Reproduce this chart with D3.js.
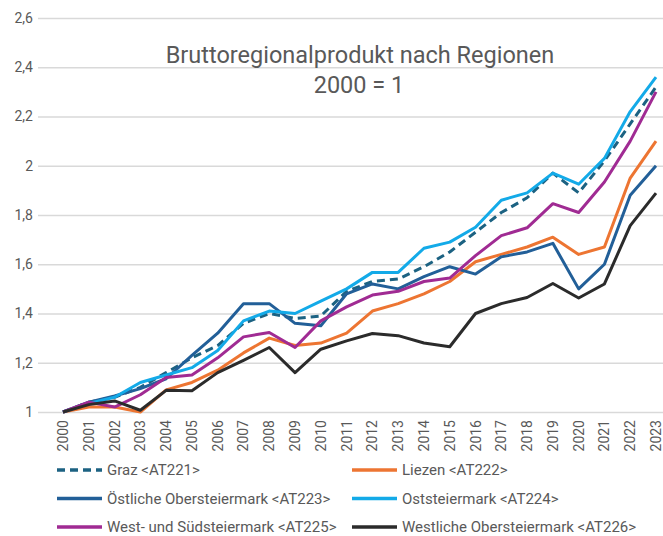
<!DOCTYPE html>
<html>
<head>
<meta charset="utf-8">
<script src="https://cdn.jsdelivr.net/npm/d3@7"></script>
<style>
  body { margin: 0; background: #fff; }
  svg { display: block; font-family: Roboto, "Liberation Sans", sans-serif; }
</style>
</head>
<body>
<div id="chart"></div>
<script>
const years = ['2000', '2001', '2002', '2003', '2004', '2005', '2006', '2007', '2008', '2009', '2010', '2011',
  '2012', '2013', '2014', '2015', '2016', '2017', '2018', '2019', '2020', '2021', '2022', '2023'];

const graz = [1.00, 1.04, 1.06, 1.10, 1.16, 1.22, 1.27, 1.36, 1.40, 1.38, 1.39, 1.49,
  1.53, 1.54, 1.59, 1.65, 1.73, 1.81, 1.87, 1.97, 1.89, 2.02, 2.17, 2.32];
const liezen = [1.00, 1.02, 1.02, 1.00, 1.09, 1.12, 1.17, 1.24, 1.30, 1.27, 1.28, 1.32,
  1.41, 1.44, 1.48, 1.53, 1.61, 1.64, 1.67, 1.71, 1.64, 1.67, 1.95, 2.10];
const oestlicheOst = [1.00, 1.04, 1.065, 1.095, 1.135, 1.23, 1.32, 1.44, 1.44, 1.36, 1.35, 1.48,
  1.52, 1.50, 1.55, 1.59, 1.56, 1.63, 1.65, 1.685, 1.50, 1.60, 1.88, 2.00];
const oststeiermark = [1.00, 1.035, 1.06, 1.12, 1.15, 1.18, 1.25, 1.37, 1.41, 1.40, 1.45, 1.50,
  1.567, 1.567, 1.665, 1.69, 1.75, 1.86, 1.89, 1.97, 1.925, 2.03, 2.22, 2.36];
const westSued = [1.00, 1.04, 1.02, 1.07, 1.14, 1.15, 1.22, 1.305, 1.323, 1.262, 1.37, 1.427,
  1.475, 1.49, 1.53, 1.544, 1.635, 1.716, 1.748, 1.846, 1.81, 1.934, 2.10, 2.30];
const westlicheOber = [1.00, 1.03, 1.045, 1.007, 1.088, 1.086, 1.16, 1.21, 1.262, 1.16, 1.255, 1.289,
  1.319, 1.31, 1.28, 1.265, 1.40, 1.44, 1.465, 1.522, 1.463, 1.52, 1.757, 1.889];

const yTicks = [1, 1.2, 1.4, 1.6, 1.8, 2, 2.2, 2.4, 2.6];

const series = [
  { name: 'Graz <AT221>', values: graz, color: '#1c6282', dash: '8,5' },
  { name: 'Liezen <AT222>', values: liezen, color: '#ed7532', dash: null },
  { name: 'Östliche Obersteiermark <AT223>', values: oestlicheOst, color: '#225f98', dash: null },
  { name: 'Oststeiermark <AT224>', values: oststeiermark, color: '#13aae8', dash: null },
  { name: 'West- und Südsteiermark <AT225>', values: westSued, color: '#a02b93', dash: null },
  { name: 'Westliche Obersteiermark <AT226>', values: westlicheOber, color: '#2b2b2b', dash: null },
];

const width = 663;
const height = 536;
const textColor = '#595959';

const de = d3.formatLocale({ decimal: ',', thousands: '.', grouping: [3], currency: ['', '€'] });
const fmt = de.format('.1~f');

const x = d3.scalePoint()
  .domain(years)
  .range([63, 656]);

const y = d3.scaleLinear()
  .domain([1, 2.6])
  .range([412, 18]);

const svg = d3.select('#chart')
  .append('svg')
  .attr('width', width)
  .attr('height', height)
  .attr('viewBox', [0, 0, width, height]);

// grid + y labels
const yAxis = (g) => g
  .attr('transform', 'translate(38,0)')
  .call(d3.axisLeft(y).tickValues(yTicks).tickFormat(fmt).tickSize(-(width - 38)).tickPadding(5))
  .call((g) => g.select('.domain').remove())
  .call((g) => g.selectAll('.tick line').attr('stroke', '#d9d9d9').attr('stroke-width', 1.3))
  .call((g) => g.selectAll('.tick text')
    .attr('fill', textColor)
    .attr('font-size', 14)
    .attr('font-family', 'Roboto, sans-serif'));

svg.append('g').call(yAxis);

// x labels, rotated
const xAxis = (g) => g
  .attr('transform', 'translate(0,412)')
  .call(d3.axisBottom(x).tickSize(0))
  .call((g) => g.select('.domain').remove())
  .call((g) => g.selectAll('.tick text')
    .attr('fill', textColor)
    .attr('font-size', 14)
    .attr('font-family', 'Roboto, sans-serif')
    .attr('transform', 'rotate(-90)')
    .attr('text-anchor', 'end')
    .attr('x', -8)
    .attr('y', 0)
    .attr('dy', '0.32em'));

svg.append('g').call(xAxis);

const line = d3.line()
  .x((d, i) => x(years[i]))
  .y((d) => y(d));

svg.append('g')
  .selectAll('path')
  .data(series)
  .join('path')
  .attr('fill', 'none')
  .attr('stroke', (d) => d.color)
  .attr('stroke-width', 3)
  .attr('stroke-linejoin', 'round')
  .attr('stroke-dasharray', (d) => d.dash)
  .attr('d', (d) => line(d.values));

// title
const title = svg.append('g')
  .attr('fill', textColor)
  .attr('text-anchor', 'middle')
  .attr('font-size', 23.5);

title.append('text')
  .attr('x', 360)
  .attr('y', 63)
  .text('Bruttoregionalprodukt nach Regionen');

title.append('text')
  .attr('x', 359)
  .attr('y', 93)
  .text('2000 = 1');

// legend
const legend = svg.append('g')
  .selectAll('g')
  .data(series)
  .join('g')
  .attr('transform', (d, i) => `translate(${i % 2 === 0 ? 57 : 352},${470 + Math.floor(i / 2) * 28.5})`);

legend.append('line')
  .attr('x1', 0)
  .attr('x2', 45)
  .attr('stroke', (d) => d.color)
  .attr('stroke-width', 3.5)
  .attr('stroke-dasharray', (d) => d.dash);

legend.append('text')
  .attr('x', 50)
  .attr('dy', '0.35em')
  .attr('fill', textColor)
  .attr('font-size', 15)
  .text((d) => d.name);
</script>
</body>
</html>
